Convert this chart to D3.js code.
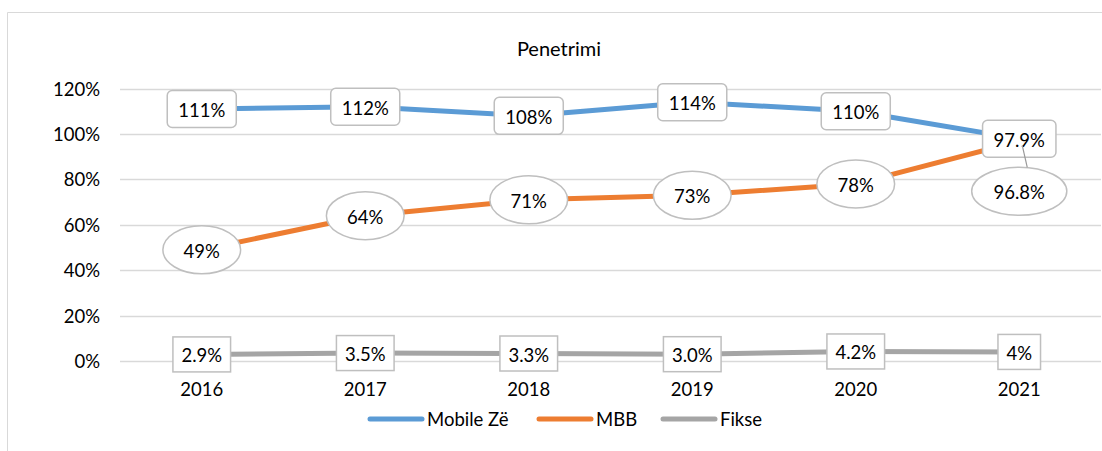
<!DOCTYPE html>
<html>
<head>
<meta charset="utf-8">
<script src="https://cdn.jsdelivr.net/npm/d3@7"></script>
<style>
  body { margin: 0; background: #fff; }
  svg text { font-family: Lato, "Open Sans", sans-serif; fill: #000; }
</style>
</head>
<body>
<div id="chart"></div>
<script>
// data
const years = ["2016", "2017", "2018", "2019", "2020", "2021"];
const mobileZe = [1.11, 1.12, 1.08, 1.14, 1.10, 0.979];
const mbb = [0.49, 0.64, 0.71, 0.73, 0.78, 0.968];
const fikse = [0.029, 0.035, 0.033, 0.030, 0.042, 0.04];
const mobileLabels = ["111%", "112%", "108%", "114%", "110%", "97.9%"];
const mbbLabels = ["49%", "64%", "71%", "73%", "78%", "96.8%"];
const fikseLabels = ["2.9%", "3.5%", "3.3%", "3.0%", "4.2%", "4%"];
const yTicks = [0, 0.2, 0.4, 0.6, 0.8, 1.0, 1.2];

const series = [
  { name: "Mobile Zë", values: mobileZe, labels: mobileLabels, color: "#5B9BD5", shape: "round" },
  { name: "MBB", values: mbb, labels: mbbLabels, color: "#ED7D31", shape: "ellipse" },
  { name: "Fikse", values: fikse, labels: fikseLabels, color: "#A5A5A5", shape: "square" }
];

// setting canvas
const width = 1102;
const height = 451;
const plot = { left: 120, right: 1101, top: 88.6, bottom: 361 };
const fontSize = "18.5px";

const svg = d3.select("#chart").append("svg")
  .attr("width", width)
  .attr("height", height);

// chart border (cropped on right and bottom)
svg.append("path")
  .attr("d", "M7.5,451 V12.5 H1102")
  .attr("fill", "none")
  .attr("stroke", "#d9d9d9")
  .attr("stroke-width", 1);

const x = d3.scaleBand().domain(years).range([plot.left, plot.right]).padding(0);
const y = d3.scaleLinear().domain([0, 1.2]).range([plot.bottom, plot.top]);
const cx = (d) => x(d) + x.bandwidth() / 2;

// title
svg.append("text")
  .attr("x", 559)
  .attr("y", 48)
  .attr("text-anchor", "middle")
  .attr("dominant-baseline", "central")
  .style("font-size", "20px")
  .text("Penetrimi");

// gridlines
svg.append("g").selectAll("line")
  .data(yTicks)
  .enter().append("line")
  .attr("x1", plot.left).attr("x2", plot.right)
  .attr("y1", d => Math.round(y(d)) + 0.5).attr("y2", d => Math.round(y(d)) + 0.5)
  .attr("stroke", "#d9d9d9")
  .attr("stroke-width", 1.3);

// y axis labels
svg.append("g").selectAll("text")
  .data(yTicks)
  .enter().append("text")
  .attr("x", 100)
  .attr("y", d => y(d))
  .attr("text-anchor", "end")
  .attr("dominant-baseline", "central")
  .style("font-size", fontSize)
  .text(d => Math.round(d * 100) + "%");

// x axis labels
svg.append("g").selectAll("text")
  .data(years)
  .enter().append("text")
  .attr("x", d => cx(d))
  .attr("y", 389)
  .attr("text-anchor", "middle")
  .attr("dominant-baseline", "central")
  .style("font-size", fontSize)
  .text(d => d);

// lines
const line = d3.line()
  .x((d, i) => cx(years[i]))
  .y(d => y(d));

series.forEach(s => {
  svg.append("path")
    .datum(s.values)
    .attr("d", line)
    .attr("fill", "none")
    .attr("stroke", s.color)
    .attr("stroke-width", 5)
    .attr("stroke-linejoin", "round");
});

// labels
const labelLayer = svg.append("g");
const leaderLayer = svg.append("g");
// MBB 2021 label moved below its point to avoid overlap
const labelShift = { "MBB-5": 50 };

series.forEach(s => {
  s.values.forEach((v, i) => {
    const px = cx(years[i]);
    const py = y(v);
    const shift = labelShift[s.name + "-" + i] || 0;
    const ly = py + shift;
    const g = labelLayer.append("g");
    const shape = g.append(s.shape === "ellipse" ? "ellipse" : "rect");
    const t = g.append("text")
      .attr("x", px)
      .attr("y", ly + 1)
      .attr("text-anchor", "middle")
      .attr("dominant-baseline", "central")
      .style("font-size", fontSize)
      .text(s.labels[i]);
    const tw = t.node().getComputedTextLength();
    if (s.shape === "ellipse") {
      const rx = tw / 2 * 1.15 + 18;
      shape.attr("cx", px).attr("cy", ly).attr("rx", rx).attr("ry", 24);
    } else if (s.shape === "round") {
      const w = tw + 22, h = 37;
      shape.attr("x", px - w / 2).attr("y", ly - h / 2)
        .attr("width", w).attr("height", h).attr("rx", 5);
    } else {
      const w = tw + 17, h = 35;
      shape.attr("x", px - w / 2).attr("y", ly - h / 2)
        .attr("width", w).attr("height", h);
    }
    shape.attr("fill", "#fff").attr("stroke", "#bfbfbf").attr("stroke-width", 1.5);
    if (shift) {
      leaderLayer.append("line")
        .attr("x1", px + 3).attr("y1", py + 4)
        .attr("x2", px + 8).attr("y2", ly - 24)
        .attr("stroke", "#999")
        .attr("stroke-width", 1.2);
    }
  });
});

// legend
const legendItems = [
  { name: "Mobile Zë", color: "#5B9BD5", x: 368 },
  { name: "MBB", color: "#ED7D31", x: 537 },
  { name: "Fikse", color: "#A5A5A5", x: 661 }
];
const legend = svg.append("g").selectAll("g")
  .data(legendItems)
  .enter().append("g")
  .attr("transform", d => "translate(" + d.x + ",419)");
legend.append("line")
  .attr("x1", 2).attr("x2", 54)
  .attr("stroke", d => d.color)
  .attr("stroke-width", 5)
  .attr("stroke-linecap", "round");
legend.append("text")
  .attr("x", 59)
  .attr("y", 0)
  .attr("dominant-baseline", "central")
  .style("font-size", fontSize)
  .text(d => d.name);
</script>
</body>
</html>
